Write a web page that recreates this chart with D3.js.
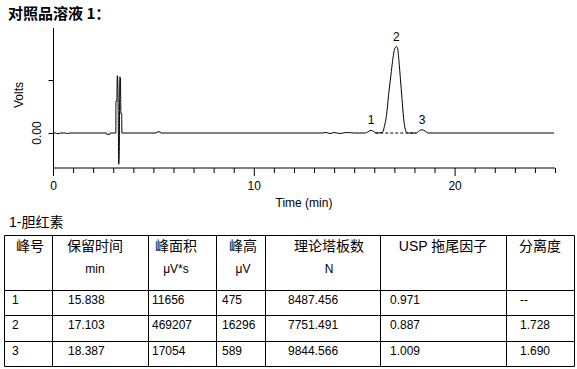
<!DOCTYPE html>
<html>
<head>
<meta charset="utf-8">
<script src="https://cdn.jsdelivr.net/npm/d3@7"></script>
<style>
  body { margin: 0; background: #fff; }
  svg { display: block; }
  text { font-family: "Liberation Sans", Arial, "Noto Sans CJK SC", sans-serif; fill: #000; }
</style>
</head>
<body>
<div id="chart"></div>
<script>
// --- data ---
const title = "对照品溶液 1：";
const compoundLabel = "1-胆红素";

// detector trace, time (min) / signal (Volts)
const traceTime = [0, 0.15, 0.18, 0.32, 0.35, 0.65, 0.68, 0.78, 0.8, 2.66, 2.68, 2.83, 2.85,
  3.13, 3.135, 3.18, 3.2, 3.22, 3.24, 3.275, 3.3, 3.33, 3.36, 3.38, 3.42, 3.43,
  5.14, 5.17, 5.34, 5.37, 13.4, 13.6, 13.8, 14.0, 14.3, 14.6, 15.0,
  15.55, 15.68, 15.78, 15.84, 15.92, 16.02, 16.1,
  16.4, 16.52, 16.6, 16.73, 16.85, 16.93, 17.01, 17.1, 17.16, 17.23, 17.3, 17.38, 17.46, 17.55, 17.63, 17.7,
  18.08, 18.2, 18.3, 18.39, 18.48, 18.58, 18.68, 24.95];
const traceVolt = [0, 0, -0.0001, -0.0001, 0, 0, -0.0001, -0.0001, 0, 0, -0.00025, -0.00025, 0,
  0, 0.006, 0.006, 0.0108, 0.0104, 0.0065, -0.0059, -0.0035, 0.0106, 0.0103, 0.0037, 0.0037, 0,
  0, 0.0002, 0.0002, 0, 0, 0.0001, -0.0001, 0.0001, -0.0001, 0.0001, 0,
  0, 0.00022, 0.00043, 0.000475, 0.0004, 0.00012, 0,
  0.0001, 0.0015, 0.0031, 0.0078, 0.0116, 0.0141, 0.0158, 0.0163, 0.016, 0.0135, 0.0103, 0.0065, 0.0028, 0.0006, 0.0001, 0,
  0, 0.0003, 0.00054, 0.000589, 0.0005, 0.00022, 0, 0];

// integration baseline under the main peak (dashed)
const dashedFrom = 16.05, dashedTo = 18.1;

const xMajorTicks = [0, 10, 20];
const xMinorTicks = d3.range(0, 26);
const yTicks = [0, 0.01];
const yTickLabels = ["0.00", ""];

// results table
const peakNo = ["1", "2", "3"];
const retTime = ["15.838", "17.103", "18.387"];
const peakArea = ["11656", "469207", "17054"];
const peakHeight = ["475", "16296", "589"];
const plates = ["8487.456", "7751.491", "9844.566"];
const tailing = ["0.971", "0.887", "1.009"];
const resolution = ["--", "1.728", "1.690"];
const headerTop = ["峰号", "保留时间", "峰面积", "峰高", "理论塔板数", "USP 拖尾因子", "分离度"];
const headerUnit = ["", "min", "μV*s", "μV", "N", "", ""];

const rtNum = retTime.map(Number);
const heightVolt = peakHeight.map(d => +d * 1e-6);

// --- layout ---
const W = 577, H = 369;
const svg = d3.select("#chart").append("svg").attr("width", W).attr("height", H);

const x = d3.scaleLinear().domain([0, 25]).range([53, 555]);
const y = d3.scaleLinear().domain([-0.0066, 0.0198]).range([168, 28]);

svg.append("text").attr("x", 8).attr("y", 19)
  .style("font-family", "'Noto Sans CJK SC', sans-serif")
  .style("font-size", "15px").style("font-weight", "bold")
  .text(title);

// x axis with minor ticks
const gx = svg.append("g").attr("transform", `translate(0,${y.range()[0]})`);
gx.append("line").attr("x1", x.range()[0]).attr("x2", x.range()[1]).attr("stroke", "#000");
gx.selectAll("line.tick").data(xMinorTicks).join("line")
  .attr("class", "tick")
  .attr("x1", d => x(d) + 0.5).attr("x2", d => x(d) + 0.5)
  .attr("y1", 0).attr("y2", d => xMajorTicks.includes(d) ? 8 : 5)
  .attr("stroke", "#000");
gx.selectAll("text").data(xMajorTicks).join("text")
  .attr("x", d => x(d) + 0.5).attr("y", 22)
  .attr("text-anchor", "middle").style("font-size", "12px")
  .text(d => d);
svg.append("text").attr("x", (x.range()[0] + x.range()[1]) / 2).attr("y", 207)
  .attr("text-anchor", "middle").style("font-size", "12px").text("Time (min)");

// y axis
const gy = svg.append("g").attr("transform", `translate(${x.range()[0] + 0.5},0)`);
gy.append("line").attr("y1", y.range()[1]).attr("y2", y.range()[0]).attr("stroke", "#000");
gy.selectAll("line.tick").data(yTicks).join("line")
  .attr("class", "tick")
  .attr("x1", -5).attr("x2", 0)
  .attr("y1", d => Math.round(y(d)) + 0.5).attr("y2", d => Math.round(y(d)) + 0.5)
  .attr("stroke", "#000");
gy.selectAll("text").data(yTicks).join("text")
  .attr("transform", d => `translate(-13,${y(d)}) rotate(-90)`)
  .attr("text-anchor", "middle").style("font-size", "12px")
  .text((d, i) => yTickLabels[i]);
svg.append("text").attr("transform", `translate(23,95) rotate(-90)`)
  .attr("text-anchor", "middle").style("font-size", "12px").text("Volts");

// trace
const trace = traceTime.map((t, i) => [t, traceVolt[i]]);
const line = d3.line().x(d => x(d[0])).y(d => y(d[1])).curve(d3.curveMonotoneX);
svg.append("line")
  .attr("x1", x(dashedFrom)).attr("x2", x(dashedTo))
  .attr("y1", y(0)).attr("y2", y(0))
  .attr("stroke", "#000").attr("stroke-dasharray", "3,2");
svg.append("path").datum(trace).attr("d", line)
  .attr("fill", "none").attr("stroke", "#000").attr("stroke-width", 1);

// peak numbers
svg.selectAll("text.peak").data(peakNo).join("text")
  .attr("class", "peak")
  .attr("x", (d, i) => x(rtNum[i])).attr("y", (d, i) => y(heightVolt[i]) - 6)
  .attr("text-anchor", "middle").style("font-size", "12px")
  .text(d => d);

// --- table ---
svg.append("text").attr("x", 9).attr("y", 227).style("font-size", "14px").text(compoundLabel);

const colEdges = [4.5, 52.5, 148.5, 216.5, 265.5, 380.5, 506.5, 574.5];
const rowEdges = [235.5, 290.5, 315.5, 341.5, 366.5];
const headCx = [30, 95, 176, 243, 329, 443, 540];
const cellX = [12, 68, 152, 222, 288, 390, 520];

const tbl = svg.append("g");
tbl.selectAll("line.v").data(colEdges).join("line").attr("class", "v")
  .attr("x1", d => d).attr("x2", d => d)
  .attr("y1", rowEdges[0]).attr("y2", rowEdges[rowEdges.length - 1])
  .attr("stroke", "#000");
tbl.selectAll("line.h").data(rowEdges).join("line").attr("class", "h")
  .attr("y1", d => d).attr("y2", d => d)
  .attr("x1", colEdges[0]).attr("x2", colEdges[colEdges.length - 1])
  .attr("stroke", "#000");

tbl.selectAll("text.h1").data(headerTop).join("text").attr("class", "h1")
  .attr("x", (d, i) => headCx[i]).attr("y", 251)
  .attr("text-anchor", "middle").style("font-size", "14px")
  .text(d => d);
tbl.selectAll("text.h2").data(headerUnit).join("text").attr("class", "h2")
  .attr("x", (d, i) => headCx[i]).attr("y", 273)
  .attr("text-anchor", "middle").style("font-size", "12px")
  .text(d => d);

const rows = peakNo.map((p, i) => [p, retTime[i], peakArea[i], peakHeight[i], plates[i], tailing[i], resolution[i]]);
rows.forEach((r, ri) => {
  const ty = rowEdges[ri + 1] + 13;
  tbl.selectAll(`text.r${ri}`).data(r).join("text").attr("class", `r${ri}`)
    .attr("x", (d, i) => cellX[i]).attr("y", ty)
    .style("font-size", "12px")
    .text(d => d);
});
</script>
</body>
</html>
